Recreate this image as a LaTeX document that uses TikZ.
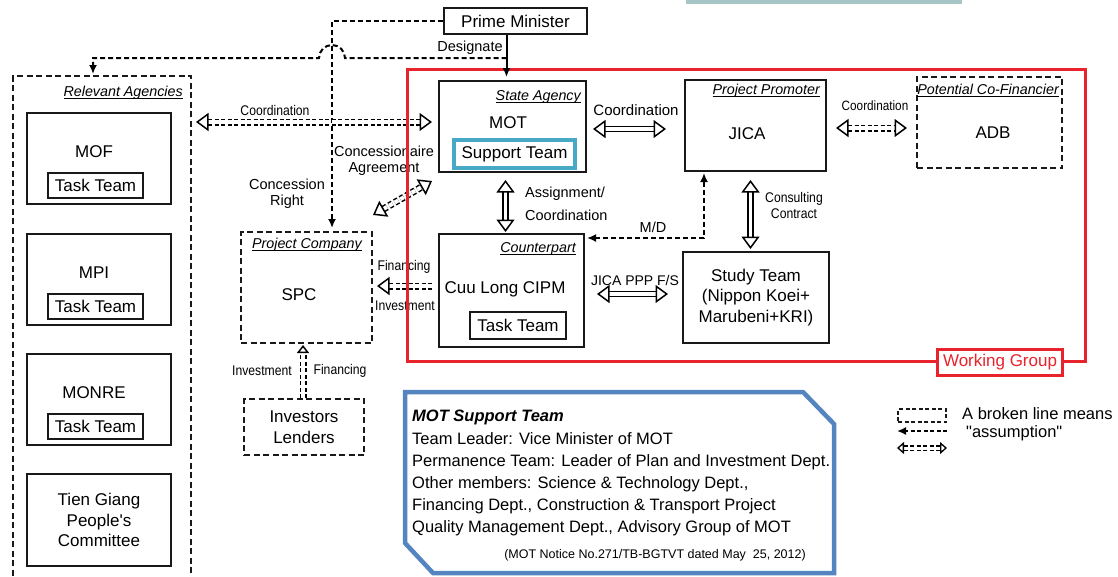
\documentclass[tikz,border=0pt]{standalone}
\usepackage{fontspec}
\setmainfont{Liberation Sans}
\newfontfamily\narrowsans[FakeStretch=0.87]{Liberation Sans}
\usetikzlibrary{positioning, arrows.meta, calc}
\definecolor{wgred}{HTML}{E8232B}
\definecolor{noteblue}{HTML}{5585C0}
\definecolor{supportcyan}{HTML}{47A9C6}
\definecolor{barteal}{HTML}{A7C4C7}
\newcommand{\titleul}[1]{\setbox0\hbox{#1}\leavevmode\rlap{\rule[-3pt]{\wd0}{1.5pt}}\box0}

\begin{document}
\begin{tikzpicture}[
  x=1pt, y=-1pt,
  font=\fontsize{17}{20.5}\selectfont,
  >={Latex[length=9pt,width=8pt]},
  hollowtip/.tip={Triangle[length=12.5pt, width=18pt, fill=white, line width=1.5pt]},
  orgbox/.style={draw=black!90, line width=2pt, rectangle, inner sep=0pt, align=center},
  dashbox/.style={orgbox, dash pattern=on 6pt off 3.5pt},
  teambox/.style={orgbox, minimum width=95pt, minimum height=25pt},
  grouptitle/.style={font=\itshape\fontsize{14.3}{16}\selectfont, inner sep=0pt, anchor=base east},
  smalllabel/.style={font=\fontsize{14.5}{16}\selectfont, inner sep=0pt, align=center},
  narrowlabel/.style={font=\narrowsans\fontsize{14}{16}\selectfont, inner sep=0pt, align=center},
  notetext/.style={font=\fontsize{16.5}{19}\selectfont, inner sep=0pt, anchor=base west},
  dashline/.style={line width=2pt, dash pattern=on 5pt off 3pt},
  hollow/.style={double, double distance=3.5pt, line width=1.5pt, hollowtip-hollowtip},
  hollowdash/.style={hollow, double distance=4pt, dash pattern=on 4pt off 2.5pt}
]
  \useasboundingbox (0,0) rectangle (1118,576);
  \clip (0,0) rectangle (1118,576);

  % --- strip at the top ---
  \fill[barteal] (686,0) rectangle (962,4);

  % --- Prime Minister ---
  \node[orgbox, minimum width=143, minimum height=26] (pm) at (515.5,21) {Prime Minister};

  % --- Relevant agencies (left column) ---
  \node[dashbox, minimum width=178, minimum height=528] (ra) at (102,340) {};
  \node[grouptitle] at ($(ra.north east)+(-9,21)$) {\titleul{Relevant Agencies}};
  \foreach \id/\name/\top in {mof/MOF/112, mpi/MPI/233, monre/MONRE/353} {
    \node[orgbox, minimum width=144, minimum height=91] (\id) at (99,\top+46.5) {};
    \node (\id-name) at (94,\top+39.5) {\name};
    \node[teambox] (\id-task) at (95.5,\top+73.5) {Task Team};
  }
  \node[orgbox, minimum width=144, minimum height=92] (tien) at (99,520)
       {Tien Giang\\People\textquotesingle s\\Committee};

  % --- Working group members ---
  \node[orgbox, minimum width=147, minimum height=91] (sa) at (512.5,126.5) {};
  \node[grouptitle] at ($(sa.north east)+(-6,20)$) {\titleul{State Agency}};
  \node (mot) at (508,123) {MOT};
  \node[orgbox, draw=supportcyan, line width=4pt, minimum width=121, minimum height=28]
       (support) at (514.5,154) {Support Team};

  \node[orgbox, minimum width=141, minimum height=91] (jica) at (755.5,125.5) {};
  \node[grouptitle] at ($(jica.north east)+(-7,15)$) {\titleul{Project Promoter}};
  \node (jica-name) at (747,134) {JICA};

  \node[dashbox, minimum width=145, minimum height=91] (adb) at (989.5,122.5) {};
  \node[grouptitle] at ($(adb.north east)+(-4,18)$) {\titleul{Potential Co-Financier}};
  \node (adb-name) at (993,133) {ADB};

  \node[orgbox, minimum width=145, minimum height=113] (cp) at (511.5,290.5) {};
  \node[grouptitle] at ($(cp.north east)+(-9,19)$) {\titleul{Counterpart}};
  \node (cp-name) at (505,289) {Cuu Long CIPM};
  \node[teambox, minimum width=96, minimum height=27] (cp-task) at (518,325.5) {Task Team};

  \node[orgbox, minimum width=146, minimum height=91] (st) at (756,297.5)
       {Study Team\\(Nippon Koei+\\Marubeni+KRI)};

  % --- Project company and investors ---
  \node[dashbox, minimum width=131, minimum height=111] (spc) at (306.5,287.5) {};
  \node[grouptitle] at ($(spc.north east)+(-11,17)$) {\titleul{Project Company}};
  \node (spc-name) at (299,295) {SPC};
  \node[dashbox, minimum width=120, minimum height=56] (inv) at (304,427) {Investors\\Lenders};

  % --- Connector labels ---
  \node[smalllabel] at (470,48) {Designate};
  \node[narrowlabel] at (275,110) {Coordination};
  \node[smalllabel] at (384,161) {Concessionaire\\Agreement};
  \node[smalllabel] at (287,194) {Concession\\Right};
  \node[smalllabel, font=\fontsize{15}{17}\selectfont] at (636,110) {Coordination};
  \node[narrowlabel, font=\narrowsans\fontsize{13.5}{16}\selectfont] at (875,106) {Coordination};
  \node[smalllabel, align=left, anchor=west, font=\fontsize{14.5}{23}\selectfont]
       at (525,203.5) {Assignment/\\Coordination};
  \node[smalllabel] at (653,227) {M/D};
  \node[narrowlabel] at (794,205) {Consulting\\Contract};
  \node[smalllabel, font=\fontsize{14}{16}\selectfont] at (635,280) {JICA PPP F/S};
  \node[narrowlabel] at (404,267) {Financing};
  \node[narrowlabel] at (405,306) {Investment};
  \node[narrowlabel] at (262,371) {Investment};
  \node[narrowlabel] at (340,371) {Financing};

  % --- Connectors ---
  \coordinate (pmfoot) at ($(pm.south)+(-9,0)$);
  \coordinate (desig) at ($(pmfoot)+(0,23)$);
  \draw[dashline, ->, shorten >=1pt] (desig) -- ++(-161.5,0)
       arc[start angle=0, end angle=-180, radius=13] -| ($(ra.north)+(-9,0)$);
  \draw[dashline, ->, shorten >=3pt] (pm.west) -| ($(spc.north)+(25.5,0)$);

  \coordinate (coordL) at ($(sa.west)+(0,-4.5)$);
  \draw[hollowdash, shorten <=4pt, shorten >=6pt] (coordL -| ra.east) -- (coordL);
  \draw[hollowdash] ($(spc.north east)+(0,-16)$) -- ($(sa.south west)+(-6,8)$);

  \draw[hollow, shorten <=6pt, shorten >=18pt] ($(sa.east)+(0,2.5)$) -- ($(jica.west)+(0,3.5)$);
  \draw[hollowdash, shorten <=9pt, shorten >=9pt] ($(jica.east)+(0,2.5)$) -- ($(adb.west)+(0,5.5)$);
  \draw[hollow, shorten <=7pt, shorten >=1pt] ($(sa.south)+(-7,0)$) -- ($(cp.north)+(-6,0)$);
  \draw[hollow, shorten <=8pt, shorten >=2pt] ($(jica.south)+(-5,0)$) -- ($(st.north)+(-5.5,0)$);
  \draw[hollow, shorten <=12pt, shorten >=14pt] ($(cp.east)+(0,3.5)$) -- ($(st.west)+(0,-3.5)$);
  \draw[dashline, <->, shorten <=1pt, shorten >=1pt]
       ($(cp.north east)+(1,5)$) -| ($(jica.south west)+(20,0)$);

  \draw[hollowdash, -hollowtip, shorten <=6pt, shorten >=4pt]
       ($(cp.west)+(0,-4.5)$) -- ($(spc.east)+(0,-1.5)$);
  \draw[hollowdash, -hollowtip, shorten >=1pt,
        hollowtip/.tip={Triangle[length=8pt, width=12pt, fill=white, line width=1.5pt]}]
       ($(inv.north)+(-1,0)$) -- ($(spc.south)+(-3.5,0)$);

  % --- Working group frame ---
  \draw[wgred, line width=3pt] (407,69) rectangle (1085,361);
  \draw[line width=2pt, ->, shorten >=3pt] (pmfoot) -- (pmfoot |- sa.north);
  \node[orgbox, draw=wgred, line width=2.5pt, fill=white, text=wgred,
        minimum width=125, minimum height=26] (wg) at (1000,362.5) {Working Group};

  % --- MOT support team note ---
  \draw[noteblue, line width=4.5pt, line join=miter]
       (405,392) -- (803,392) -- (834,424) -- (834,573) -- (433,573) -- (405,543) -- cycle;
  \node[notetext] (n0) at (412,421) {\bfseries\itshape MOT Support Team};
  \node[notetext] (n1) at (412,444) {Team Leader: Vice Minister of MOT};
  \node[notetext] (n2) at (412,466) {Permanence Team: Leader of Plan and Investment Dept.};
  \node[notetext] (n3) at (412,488) {Other members: Science \& Technology Dept.,};
  \node[notetext] (n4) at (412,510) {Financing Dept., Construction \& Transport Project};
  \node[notetext] (n5) at (412,532) {Quality Management Dept., Advisory Group of MOT};
  \node[notetext, anchor=base, font=\fontsize{12.5}{14}\selectfont] (n6) at (655,558)
       {(MOT Notice No.271/TB-BGTVT dated May \ 25, 2012)};

  % --- Legend ---
  \node[dashbox, line width=1.6pt, dash pattern=on 4pt off 2.5pt,
        minimum width=48, minimum height=13] (lgbox) at (922,415.5) {};
  \coordinate (lgA) at (897,431);
  \coordinate (lgB) at (947,431);
  \coordinate (lgC) at (897,448);
  \coordinate (lgD) at (947,448);
  \draw[dashline, line width=1.6pt, dash pattern=on 4pt off 2.5pt, ->] (lgB) -- (lgA);
  \draw[hollowdash, line width=1.3pt, double distance=3pt,
        hollowtip/.tip={Triangle[length=7pt, width=12pt, fill=white, line width=1.3pt]}]
       (lgC) -- (lgD);
  \node[notetext, anchor=west] (lg1) at (962,414) {A broken line means};
  \node[notetext, anchor=west] (lg2) at (966,433) {\textquotedbl assumption\textquotedbl};
\end{tikzpicture}
\end{document}
